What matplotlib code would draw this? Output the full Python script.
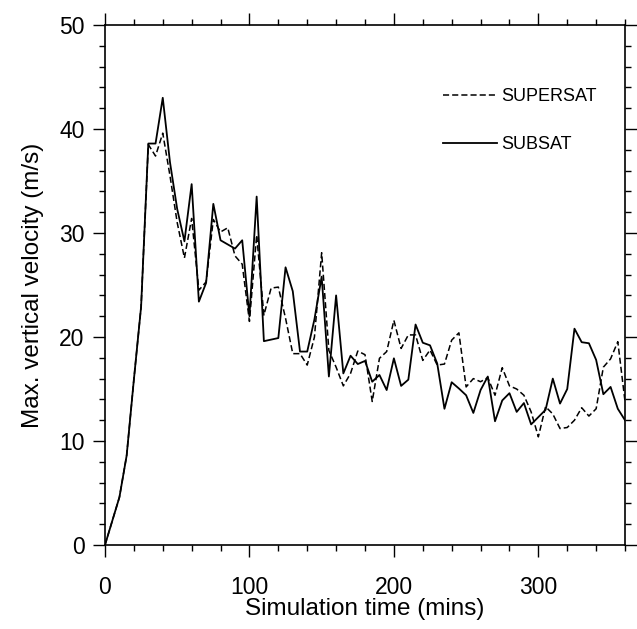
# Max vertical velocity vs simulation time, SUPERSAT vs SUBSAT runs
# (NCL style line plot redone in matplotlib)

import matplotlib
matplotlib.use("Agg")
import matplotlib.pyplot as plt
from matplotlib.ticker import MultipleLocator

plt.rcParams['font.family'] = ['Liberation Sans', 'DejaVu Sans']

# time axis in minutes, one value every 5 mins
time_mins = list(range(0, 361, 5))

# values (m/s)
subsat = [0.0, 2.3, 4.6, 8.6, 15.9, 22.9, 38.6, 38.6, 43.0, 36.8,
          32.3, 29.2, 34.7, 23.4, 25.2, 32.8, 29.3, 28.9, 28.5, 29.3,
          22.0, 33.5, 19.6, 19.75, 19.9, 26.7, 24.4, 18.6, 18.6, 21.7,
          25.8, 16.2, 24.0, 16.5, 18.2, 17.4, 17.7, 15.7, 16.35, 14.9,
          17.95, 15.3, 15.9, 21.2, 19.45, 19.2, 17.45, 13.1, 15.65, 15.05,
          14.4, 12.7, 14.9, 16.2, 11.9, 13.9, 14.6, 12.8, 13.65, 11.6,
          12.3, 13.0, 16.0, 13.6, 15.0, 20.8, 19.5, 19.4, 17.8, 14.5,
          15.2, 13.1, 12.0]

supersat = [0.0, 2.3, 4.6, 8.6, 15.9, 22.9, 38.5, 37.4, 39.6, 35.5,
            31.0, 27.6, 31.4, 24.5, 25.3, 31.3, 30.1, 30.5, 27.8, 27.0,
            21.5, 29.8, 22.1, 24.7, 24.8, 21.8, 18.4, 18.4, 17.3, 20.0,
            28.1, 18.7, 17.1, 15.3, 16.5, 18.65, 18.3, 13.8, 17.95, 18.6,
            21.6, 18.9, 20.2, 20.2, 17.75, 18.75, 17.3, 17.4, 19.7, 20.4,
            15.2, 16.0, 15.7, 16.1, 14.4, 17.05, 15.3, 15.0, 14.4, 12.8,
            10.4, 13.3, 12.6, 11.2, 11.3, 12.0, 13.2, 12.4, 13.1, 17.1,
            17.9, 19.55, 13.8]

fig = plt.figure(figsize=(6.37, 6.29), dpi=100)
ax = fig.add_axes([0.1648, 0.1335, 0.8164, 0.8268])

ax.plot(time_mins, supersat, color='black', linewidth=1.1,
        linestyle=(0, (4.0, 2.0)), label='SUPERSAT')
ax.plot(time_mins, subsat, color='black', linewidth=1.3, label='SUBSAT')

ax.set_xlim(0, 360)
ax.set_ylim(0, 50)

# ticks on all four sides, pointing out like NCL does
ax.xaxis.set_major_locator(MultipleLocator(100))
ax.xaxis.set_minor_locator(MultipleLocator(20))
ax.yaxis.set_major_locator(MultipleLocator(10))
ax.yaxis.set_minor_locator(MultipleLocator(2))
ax.tick_params(which='both', direction='out', top=True, right=True,
               width=1.0, labelsize=16.5)
ax.tick_params(which='major', length=8.6)
ax.tick_params(which='minor', length=4.6)
ax.tick_params(axis='x', which='major', pad=14)
ax.tick_params(axis='y', which='major', pad=6)

for side in ax.spines.values():
    side.set_linewidth(1.2)

ax.set_xlabel('Simulation time (mins)', fontsize=17.5, labelpad=-1)
ax.set_ylabel('Max. vertical velocity (m/s)', fontsize=17.5, labelpad=11)

# legend without a box, up in the right corner
ax.legend(loc='upper left', bbox_to_anchor=(0.65, 0.879), frameon=False,
          fontsize=13, handlelength=3.0, handletextpad=0.25,
          labelspacing=1.75, borderpad=0, borderaxespad=0)

fig.savefig('out.png', dpi=100)
plt.close()
